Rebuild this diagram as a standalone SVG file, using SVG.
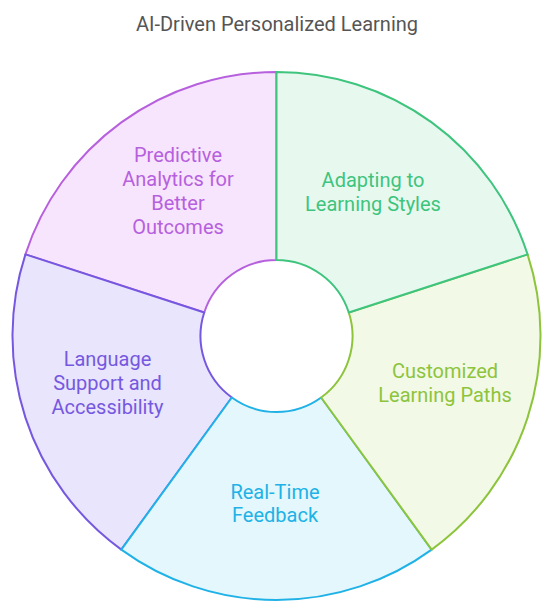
<svg xmlns="http://www.w3.org/2000/svg" width="555" height="613" viewBox="0 0 555 613">
<style>
.t{font-family:Roboto,"Liberation Sans",sans-serif;font-size:20px;text-anchor:middle}
.seg{stroke-width:2;stroke-linejoin:round}
</style>
<rect width="555" height="613" fill="#ffffff"/>
<text class="t" x="277" y="31" fill="#555555">AI-Driven Personalized Learning</text>
<g id="connectors"/>
<g id="seg-predictive">
<path class="seg" d="M204.22,312.51 L25.42,254.42 A264,264 0 0 1 276.5,72 L276.5,260 A76,76 0 0 0 204.22,312.51 Z" fill="#f6e5fd" stroke="#b760dd"/>
<text class="t" fill="#b760dd"><tspan x="178" y="162">Predictive</tspan><tspan x="178" y="186">Analytics for</tspan><tspan x="178" y="210">Better</tspan><tspan x="178" y="234">Outcomes</tspan></text>
</g>
<g id="seg-language">
<path class="seg" d="M231.83,397.49 L121.32,549.58 A264,264 0 0 1 25.42,254.42 L204.22,312.51 A76,76 0 0 0 231.83,397.49 Z" fill="#e8e5fd" stroke="#7658e0"/>
<text class="t" fill="#7658e0"><tspan x="107.5" y="366">Language</tspan><tspan x="107.5" y="390">Support and</tspan><tspan x="107.5" y="414">Accessibility</tspan></text>
</g>
<g id="seg-realtime">
<path class="seg" d="M321.17,397.49 L431.68,549.58 A264,264 0 0 1 121.32,549.58 L231.83,397.49 A76,76 0 0 0 321.17,397.49 Z" fill="#e4f7fd" stroke="#20b2e6"/>
<text class="t" fill="#20b2e6"><tspan x="275" y="499">Real-Time</tspan><tspan x="275" y="522">Feedback</tspan></text>
</g>
<g id="seg-customized">
<path class="seg" d="M348.78,312.51 L527.58,254.42 A264,264 0 0 1 431.68,549.58 L321.17,397.49 A76,76 0 0 0 348.78,312.51 Z" fill="#f2f9e6" stroke="#8dc43c"/>
<text class="t" fill="#8dc43c"><tspan x="445" y="378">Customized</tspan><tspan x="445" y="402">Learning Paths</tspan></text>
</g>
<g id="seg-adapting">
<path class="seg" d="M276.5,260 L276.5,72 A264,264 0 0 1 527.58,254.42 L348.78,312.51 A76,76 0 0 0 276.5,260 Z" fill="#e7f9ef" stroke="#3ec47d"/>
<text class="t" fill="#3ec47d"><tspan x="373" y="187">Adapting to</tspan><tspan x="373" y="211">Learning Styles</tspan></text>
</g>
</svg>
